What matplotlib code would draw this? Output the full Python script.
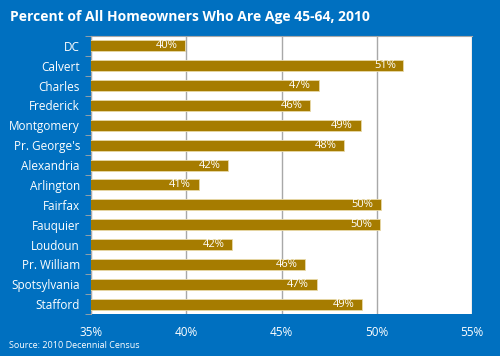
import matplotlib.pyplot as plt
from matplotlib.ticker import FuncFormatter

counties = ['DC', 'Calvert', 'Charles', 'Frederick', 'Montgomery', "Pr. George's",
            'Alexandria', 'Arlington', 'Fairfax', 'Fauquier', 'Loudoun',
            'Pr. William', 'Spotsylvania', 'Stafford']
pct = [39.95, 51.4, 46.95, 46.5, 49.15, 48.3, 42.2, 40.65, 50.2, 50.15, 42.4,
       46.25, 46.85, 49.25]

blue = '#0070c0'
gold = '#a67c00'

plt.rcParams['font.family'] = ['Open Sans', 'DejaVu Sans']

fig = plt.figure(figsize=(5, 3.56), dpi=100, facecolor=blue)
ax = fig.add_axes([91 / 500, 1 - 314 / 356, (472 - 91) / 500, (314 - 36) / 356])
ax.set_facecolor('white')

y = range(len(counties))
ax.barh(y, pct, height=0.55, left=0, color=gold, edgecolor='#e8d9a8', linewidth=0.6, zorder=3)
for yi, v in zip(y, pct):
    ax.text(v - 0.4, yi, f'{round(v):.0f}%', ha='right', va='center',
            color='white', fontsize=8, zorder=4)

ax.set_xlim(35, 55)
ax.set_ylim(len(counties) - 0.5, -0.5)
ax.set_xticks([35, 40, 45, 50, 55])
ax.xaxis.set_major_formatter(FuncFormatter(lambda v, p: f'{v:.0f}%'))
ax.set_yticks(list(y))
ax.set_yticklabels(counties)
ax.set_yticks([i - 0.5 for i in range(len(counties) + 1)], minor=True)
ax.tick_params(axis='y', which='major', length=0, colors='white', labelsize=8.5, pad=8)
ax.tick_params(axis='y', which='minor', length=4, color='#a8a8a8')
ax.tick_params(axis='x', length=0, colors='white', labelsize=8.5, pad=9)
ax.grid(axis='x', color='#a8a8a8', linewidth=1, zorder=1)
for s in ax.spines.values():
    s.set_visible(False)
ax.spines['left'].set_visible(True)
ax.spines['left'].set_color('#a8a8a8')
ax.spines['top'].set_visible(True)
ax.spines['top'].set_color('#a8a8a8')

fig.text(10 / 500, 1 - 17 / 356, 'Percent of All Homeowners Who Are Age 45-64, 2010',
         color='white', fontsize=10, fontweight='bold', va='center', ha='left')
fig.text(9 / 500, 1 - 346 / 356, 'Source: 2010 Decennial Census',
         color='white', fontsize=6.5, va='center', ha='left')

fig.savefig('out.png', dpi=100, facecolor=blue)
